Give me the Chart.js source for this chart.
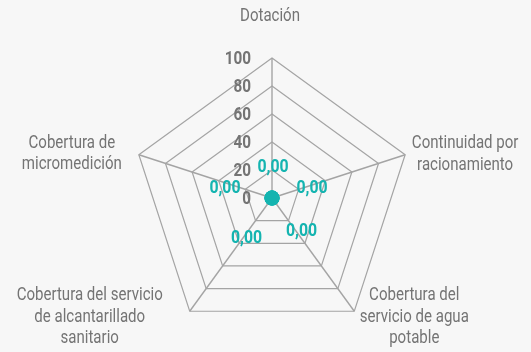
<!DOCTYPE html>
<html>
<head>
<meta charset="utf-8">
<script src="https://cdn.jsdelivr.net/npm/chart.js@4.4.1/dist/chart.umd.min.js"></script>
<style>
  html, body { margin: 0; background: #f7f7f7; }
  #wrap { width: 531px; height: 352px; }
</style>
</head>
<body>
<div id="wrap"><canvas id="myChart"></canvas></div>
<script>
const categories = [
  ['Dotación'],
  ['Continuidad por', 'racionamiento'],
  ['Cobertura del', 'servicio de agua', 'potable'],
  ['Cobertura del servicio', 'de alcantarillado', 'sanitario'],
  ['Cobertura de', 'micromedición']
];
const values = [0, 0, 0, 0, 0];
const tickValues = [0, 20, 40, 60, 80, 100];

const FONT = "Roboto, sans-serif";
const TEAL = '#14b4b0';
const GREY = '#747474';

// where each axis title sits, relative to the outer vertex of its axis
const labelShift = [[-2, -41.5], [60, 0], [60, 6], [-100, 6], [-67, -0.5]];
// small nudges for the value labels
const valueShift = [[1, 9], [2, 3], [6, 1], [-2, 8], [-9, 3]];

const fmt = v => v.toFixed(2).replace('.', ',');

// the original uses a condensed face, so squeeze Roboto a little
function narrowText(ctx, text, x, y, sx) {
  ctx.save();
  ctx.translate(x, y);
  ctx.scale(sx, 1);
  ctx.fillText(text, 0, 0);
  ctx.restore();
}

const radarText = {
  id: 'radarText',
  afterDatasetsDraw(chart) {
    const ctx = chart.ctx;
    const scale = chart.scales.r;
    const cx = scale.xCenter, cy = scale.yCenter;
    ctx.save();

    // tick labels, to the left of the vertical axis
    ctx.font = 'bold 18px ' + FONT;
    ctx.fillStyle = GREY;
    ctx.textAlign = 'right';
    ctx.textBaseline = 'middle';
    tickValues.forEach(v => {
      narrowText(ctx, String(v), cx - 21, cy - scale.getDistanceFromCenterForValue(v) + 1, 0.85);
    });

    // axis titles
    ctx.font = '17.5px ' + FONT;
    ctx.textAlign = 'center';
    categories.forEach((lines, i) => {
      const p = scale.getPointPosition(i, scale.drawingArea);
      const x = p.x + labelShift[i][0];
      const lh = 21.5;
      const y0 = p.y + labelShift[i][1] - (lines.length - 1) * lh / 2;
      lines.forEach((t, k) => narrowText(ctx, t, x, y0 + k * lh, 0.86));
    });

    // value labels
    ctx.font = 'bold 18px ' + FONT;
    ctx.fillStyle = TEAL;
    values.forEach((v, i) => {
      const p = scale.getPointPosition(i, scale.getDistanceFromCenterForValue(v) + 40);
      narrowText(ctx, fmt(v), p.x + valueShift[i][0], p.y + valueShift[i][1], 0.88);
    });
    ctx.restore();
  }
};

new Chart(document.getElementById('myChart'), {
  type: 'radar',
  data: {
    labels: categories,
    datasets: [{
      data: values,
      borderColor: TEAL,
      borderWidth: 2,
      backgroundColor: TEAL,
      fill: false,
      pointRadius: 7.5,
      pointBorderWidth: 0,
      pointBackgroundColor: TEAL
    }]
  },
  options: {
    responsive: true,
    maintainAspectRatio: false,
    animation: false,
    layout: {
      padding: { left: 13, right: 0, top: 58, bottom: 14 }
    },
    scales: {
      r: {
        min: 0,
        max: 100,
        ticks: { stepSize: 20, display: false },
        grid: { color: '#a4a4a4', lineWidth: 1.2 },
        angleLines: { color: '#a4a4a4', lineWidth: 1.4 },
        pointLabels: { display: false }
      }
    },
    plugins: {
      legend: { display: false },
      tooltip: { enabled: false }
    }
  },
  plugins: [radarText]
});
</script>
</body>
</html>
